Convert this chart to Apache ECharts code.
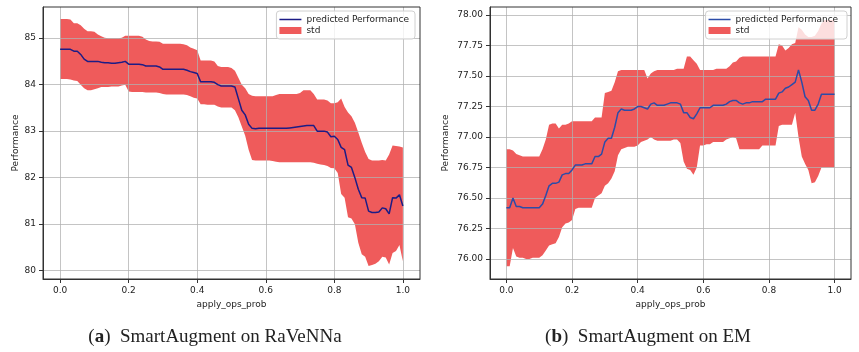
<!DOCTYPE html>
<html>
<head>
<meta charset="utf-8">
<script src="https://cdn.jsdelivr.net/npm/echarts@6/dist/echarts.min.js"></script>
<style>
html,body{margin:0;padding:0;background:#fff;}
#c{width:859px;height:352px;}
</style>
</head>
<body>
<div id="c"></div>
<script>
// ---------- data ----------
const xVals = [0.00,0.01,0.02,0.03,0.04,0.05,0.06,0.07,0.08,0.09,
0.10,0.11,0.12,0.13,0.14,0.15,0.16,0.17,0.18,0.19,
0.20,0.21,0.22,0.23,0.24,0.25,0.26,0.27,0.28,0.29,
0.30,0.31,0.32,0.33,0.34,0.35,0.36,0.37,0.38,0.39,
0.40,0.41,0.42,0.43,0.44,0.45,0.46,0.47,0.48,0.49,
0.50,0.51,0.52,0.53,0.54,0.55,0.56,0.57,0.58,0.59,
0.60,0.61,0.62,0.63,0.64,0.65,0.66,0.67,0.68,0.69,
0.70,0.71,0.72,0.73,0.74,0.75,0.76,0.77,0.78,0.79,
0.80,0.81,0.82,0.83,0.84,0.85,0.86,0.87,0.88,0.89,
0.90,0.91,0.92,0.93,0.94,0.95,0.96,0.97,0.98,0.99,1.00];

// (a) SmartAugment on RaVeNNa
const meanA = [84.76,84.76,84.76,84.76,84.72,84.72,84.65,84.55,84.50,84.50,
84.50,84.50,84.48,84.47,84.47,84.46,84.46,84.47,84.48,84.50,
84.44,84.44,84.44,84.44,84.43,84.40,84.40,84.40,84.40,84.38,
84.33,84.33,84.33,84.33,84.33,84.33,84.33,84.31,84.28,84.26,
84.24,84.06,84.06,84.06,84.06,84.05,84.00,83.97,83.97,83.97,
83.97,83.95,83.70,83.45,83.35,83.15,83.06,83.05,83.06,83.06,
83.06,83.06,83.06,83.06,83.06,83.06,83.06,83.07,83.08,83.09,
83.10,83.11,83.12,83.12,83.12,83.00,83.00,83.00,82.98,82.88,
82.89,82.82,82.65,82.60,82.27,82.22,82.00,81.75,81.57,81.56,
81.28,81.25,81.25,81.26,81.35,81.33,81.22,81.57,81.56,81.63,81.39];
const upperA = [85.41,85.41,85.41,85.40,85.32,85.32,85.28,85.20,85.15,85.15,
85.14,85.08,85.04,85.01,85.00,85.00,85.00,85.00,85.01,85.05,
85.05,85.05,85.05,85.05,85.03,84.97,84.94,84.93,84.93,84.92,
84.88,84.88,84.88,84.88,84.88,84.88,84.87,84.85,84.80,84.77,
84.74,84.52,84.52,84.52,84.52,84.50,84.40,84.38,84.38,84.38,
84.36,84.30,84.15,84.00,83.92,83.80,83.76,83.75,83.75,83.75,
83.75,83.75,83.75,83.78,83.80,83.80,83.80,83.80,83.80,83.80,
83.82,83.88,83.88,83.88,83.80,83.68,83.68,83.68,83.66,83.60,
83.60,83.62,83.70,83.52,83.40,83.32,83.18,82.97,82.75,82.55,
82.40,82.37,82.37,82.37,82.38,82.37,82.50,82.69,82.68,82.67,82.65];
const lowerA = [84.12,84.12,84.12,84.11,84.09,84.08,84.00,83.92,83.88,83.88,
83.90,83.92,83.95,83.95,83.95,83.96,83.96,83.96,83.98,84.00,
83.85,83.84,83.84,83.84,83.84,83.83,83.83,83.83,83.83,83.82,
83.80,83.79,83.79,83.79,83.79,83.79,83.79,83.78,83.75,83.72,
83.70,83.58,83.58,83.57,83.57,83.57,83.53,83.51,83.51,83.51,
83.51,83.45,83.30,83.10,82.90,82.60,82.38,82.37,82.37,82.37,
82.37,82.37,82.36,82.34,82.33,82.33,82.33,82.33,82.33,82.33,
82.33,82.33,82.33,82.33,82.32,82.30,82.28,82.27,82.25,82.21,
82.20,82.10,81.65,81.57,81.15,81.12,81.00,80.60,80.35,80.30,
80.10,80.12,80.15,80.20,80.30,80.28,80.13,80.38,80.42,80.55,80.20];

// (b) SmartAugment on EM
const meanB = [76.42,76.42,76.50,76.43,76.43,76.42,76.42,76.42,76.42,76.42,
76.42,76.45,76.52,76.60,76.62,76.62,76.63,76.69,76.70,76.70,
76.73,76.77,76.77,76.77,76.78,76.78,76.78,76.84,76.84,76.86,
76.96,76.99,76.99,77.08,77.20,77.23,77.22,77.22,77.22,77.23,
77.25,77.25,77.24,77.23,77.27,77.28,77.26,77.26,77.26,77.27,
77.28,77.28,77.28,77.27,77.20,77.20,77.16,77.15,77.19,77.24,
77.24,77.24,77.24,77.26,77.26,77.26,77.26,77.27,77.29,77.30,
77.30,77.28,77.27,77.28,77.28,77.29,77.29,77.29,77.29,77.31,
77.31,77.31,77.31,77.36,77.37,77.40,77.41,77.43,77.45,77.55,
77.45,77.33,77.30,77.22,77.22,77.27,77.35,77.35,77.35,77.35,77.35];
const upperB = [76.90,76.90,76.89,76.86,76.85,76.84,76.84,76.84,76.84,76.84,
76.84,76.90,76.98,77.10,77.11,77.11,77.07,77.10,77.10,77.11,
77.13,77.13,77.13,77.13,77.13,77.13,77.13,77.16,77.16,77.16,
77.36,77.37,77.38,77.45,77.54,77.55,77.55,77.55,77.55,77.55,
77.55,77.55,77.55,77.48,77.52,77.54,77.55,77.55,77.55,77.55,
77.55,77.55,77.56,77.56,77.56,77.66,77.66,77.63,77.60,77.55,
77.55,77.55,77.55,77.55,77.56,77.56,77.56,77.56,77.58,77.61,
77.62,77.65,77.66,77.66,77.66,77.66,77.66,77.66,77.66,77.66,
77.66,77.66,77.66,77.76,77.75,77.71,77.73,77.76,77.77,77.90,
77.88,77.84,77.82,77.82,77.83,77.87,77.93,77.96,77.96,77.96,77.96];
const lowerB = [75.94,75.94,76.09,76.02,76.01,76.01,76.00,76.00,76.01,76.01,
76.01,76.03,76.07,76.11,76.12,76.13,76.18,76.26,76.29,76.30,
76.32,76.41,76.42,76.42,76.42,76.42,76.42,76.50,76.52,76.54,
76.60,76.62,76.66,76.72,76.85,76.90,76.91,76.92,76.92,76.92,
76.93,76.96,76.97,76.98,77.00,76.98,76.97,76.97,76.97,76.97,
76.97,76.98,76.98,76.95,76.80,76.74,76.73,76.69,76.75,76.93,
76.93,76.94,76.94,76.96,76.96,76.96,76.96,76.98,76.99,77.00,
76.99,76.90,76.90,76.90,76.90,76.90,76.90,76.90,76.93,76.93,
76.93,76.93,76.93,77.09,77.10,77.10,77.10,77.10,77.20,77.00,
76.84,76.78,76.73,76.62,76.63,76.68,76.75,76.75,76.75,76.75,76.75];

const xTicks = [0, 0.2, 0.4, 0.6, 0.8, 1.0];
const yTicksA = [80, 81, 82, 83, 84, 85];
const yTicksB = [76.00, 76.25, 76.50, 76.75, 77.00, 77.25, 77.50, 77.75, 78.00];

// ---------- styling ----------
const BAND = '#ef5b5b';
const LINE_A = '#1c1c86';
const LINE_B = '#2c4ca8';
const FONT = 'DejaVu Sans';
const GRIDC = 'rgba(176,176,176,0.75)';
const LINE_ICON = 'path://M0,0 L0.01,0 L0,0.01 Z M0,2.7 L22,2.7 L22,4.3 L0,4.3 Z M0,7 L0.01,7 L0,6.99 Z';

const pairs = (arr) => xVals.map((x, i) => [x, arr[i]]);

function xAxisCfg(gi) {
  return {
    type: 'value', gridIndex: gi, min: -0.05, max: 1.05, z: 1,
    name: 'apply_ops_prob', nameLocation: 'middle', nameGap: 17,
    nameTextStyle: {fontFamily: FONT, fontSize: 9, color: '#222'},
    axisLine: {show: true, onZero: false, lineStyle: {color: '#333', width: 1}},
    axisTick: {show: true, length: 4, customValues: xTicks, lineStyle: {color: '#333'}},
    axisLabel: {customValues: xTicks, margin: 7, fontFamily: FONT, fontSize: 9, color: '#222',
      formatter: v => v.toFixed(1)},
    splitLine: {show: true, lineStyle: {color: GRIDC, width: 1}}
  };
}
function yAxisCfg(gi, min, max, ticks, dec, gap) {
  return {
    type: 'value', gridIndex: gi, min: min, max: max, z: 1,
    name: 'Performance', nameLocation: 'middle', nameGap: gap,
    nameTextStyle: {fontFamily: FONT, fontSize: 9, color: '#222'},
    axisLine: {show: true, onZero: false, lineStyle: {color: '#333', width: 1}},
    axisTick: {show: true, length: 4, customValues: ticks, lineStyle: {color: '#333'}},
    axisLabel: {customValues: ticks, margin: 7, fontFamily: FONT, fontSize: 9, color: '#222',
      formatter: v => v.toFixed(dec)},
    splitLine: {show: true, lineStyle: {color: GRIDC, width: 1}}
  };
}
function bandSeries(gi, lo, up) {
  return {
    type: 'custom', name: 'std', coordinateSystem: 'cartesian2d',
    xAxisIndex: gi, yAxisIndex: gi,
    data: xVals.map((x, i) => [x, lo[i], up[i]]),
    encode: {x: 0, y: [1, 2]},
    itemStyle: {color: BAND}, silent: true, z: 0,
    renderItem: function (params, api) {
      if (params.dataIndex !== 0) return null;
      const pts = [];
      for (let i = 0; i < xVals.length; i++) pts.push(api.coord([xVals[i], up[i]]));
      for (let i = xVals.length - 1; i >= 0; i--) pts.push(api.coord([xVals[i], lo[i]]));
      return {type: 'polygon', shape: {points: pts}, style: {fill: BAND, stroke: null}};
    }
  };
}
function legendCfg(right, lineName) {
  return {
    orient: 'vertical', right: right, top: 11, z: 5,
    backgroundColor: 'rgba(255,255,255,0.8)', borderColor: '#d0d0d0', borderWidth: 1, borderRadius: 3,
    padding: [4, 6, 4, 3], itemGap: 2, itemWidth: 22, itemHeight: 7,
    textStyle: {fontFamily: FONT, fontSize: 9, color: '#222'},
    data: [{name: lineName, icon: LINE_ICON}, {name: 'std', icon: 'rect'}],
    selectedMode: false
  };
}

const chart = echarts.init(document.getElementById('c'), null, {renderer: 'canvas'});
chart.setOption({
  animation: false,
  backgroundColor: '#fff',
  grid: [
    {left: 43, top: 7, width: 377, height: 272, show: true, borderColor: '#333', borderWidth: 1, z: 2},
    {left: 490, top: 7, width: 361, height: 272, show: true, borderColor: '#333', borderWidth: 1, z: 2}
  ],
  xAxis: [xAxisCfg(0), xAxisCfg(1)],
  yAxis: [
    yAxisCfg(0, 79.82, 85.67, yTicksA, 0, 22),
    yAxisCfg(1, 75.836, 78.066, yTicksB, 2, 40)
  ],
  legend: [
    legendCfg(444, 'predicted Performance'),
    legendCfg(12, 'predicted Performance ')
  ],
  series: [
    bandSeries(0, lowerA, upperA),
    {type: 'line', name: 'predicted Performance', xAxisIndex: 0, yAxisIndex: 0, data: pairs(meanA),
     symbol: 'none', lineStyle: {color: LINE_A, width: 1.5}, itemStyle: {color: LINE_A}, z: 3},
    bandSeries(1, lowerB, upperB),
    {type: 'line', name: 'predicted Performance ', xAxisIndex: 1, yAxisIndex: 1, data: pairs(meanB),
     symbol: 'none', lineStyle: {color: LINE_B, width: 1.5}, itemStyle: {color: LINE_B}, z: 3}
  ],
  graphic: [
    {type: 'text', x: 215, y: 337, style: {
      text: '{p|(}{b|a}{p|)  SmartAugment on RaVeNNa}', align: 'center', verticalAlign: 'middle',
      rich: {p: {fontFamily: 'Liberation Serif', fontSize: 19, fill: '#222'},
             b: {fontFamily: 'Liberation Serif', fontSize: 19, fontWeight: 'bold', fill: '#222'}}}},
    {type: 'text', x: 648, y: 337, style: {
      text: '{p|(}{b|b}{p|)  SmartAugment on EM}', align: 'center', verticalAlign: 'middle',
      rich: {p: {fontFamily: 'Liberation Serif', fontSize: 19, fill: '#222'},
             b: {fontFamily: 'Liberation Serif', fontSize: 19, fontWeight: 'bold', fill: '#222'}}}}
  ]
});
</script>
</body>
</html>
